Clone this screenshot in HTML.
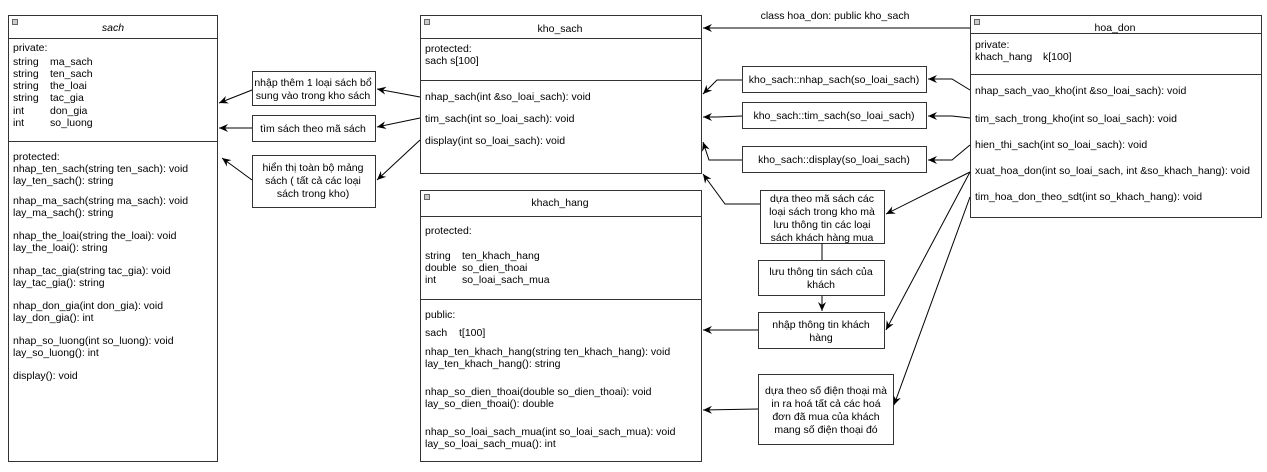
<!DOCTYPE html>
<html><head><meta charset="utf-8"><style>
html,body{margin:0;padding:0;background:#fff;width:1267px;height:472px;overflow:hidden}
svg text{font-family:"Liberation Sans",Arial,sans-serif;font-size:10.5px;fill:#000}
</style></head><body>
<svg width="1267" height="472" xmlns="http://www.w3.org/2000/svg">
<defs>
<marker id="a" markerWidth="10" markerHeight="8" refX="9" refY="4" orient="auto" markerUnits="userSpaceOnUse">
<path d="M0,0 L9,4 L0,8 L3,4 z" fill="#000"/></marker>
</defs>
<g fill="#fff" stroke="#333" stroke-width="1">
<rect x="8.5" y="15.5" width="209" height="446"/>
<line x1="8" y1="38.5" x2="217" y2="38.5"/><line x1="8" y1="141.5" x2="217" y2="141.5"/>
<rect x="420.5" y="15.5" width="281" height="158"/>
<line x1="420" y1="38.5" x2="701" y2="38.5"/><line x1="420" y1="80.5" x2="701" y2="80.5"/>
<rect x="420.5" y="190.5" width="281" height="271"/>
<line x1="420" y1="216.5" x2="701" y2="216.5"/><line x1="420" y1="299.5" x2="701" y2="299.5"/>
<rect x="970.5" y="15.5" width="291" height="202"/>
<line x1="970" y1="33.5" x2="1261" y2="33.5"/><line x1="970" y1="74.5" x2="1261" y2="74.5"/>
<rect x="252.5" y="71.5" width="123" height="34"/>
<rect x="252.5" y="115.5" width="123" height="26"/>
<rect x="252.5" y="155.5" width="123" height="52"/>
<rect x="742.5" y="66.5" width="184" height="26"/>
<rect x="742.5" y="102.5" width="184" height="26"/>
<rect x="742.5" y="146.5" width="184" height="26"/>
<rect x="760.5" y="190.5" width="124" height="53"/>
<rect x="758.5" y="260.5" width="126" height="35"/>
<rect x="758.5" y="312.5" width="126" height="36"/>
<rect x="758.5" y="374.5" width="135" height="70"/>
</g>
<g fill="#ccc" stroke="#666" stroke-width="1">
<rect x="12.5" y="19.5" width="5" height="5"/><rect x="424.5" y="19.5" width="5" height="5"/>
<rect x="424.5" y="194.5" width="5" height="5"/><rect x="974.5" y="19.5" width="5" height="5"/>
</g>
<g stroke="#000" stroke-width="1" fill="none" marker-end="url(#a)">
<line x1="252" y1="90" x2="219" y2="103"/>
<line x1="252" y1="128" x2="219" y2="128"/>
<line x1="252" y1="180" x2="222" y2="158"/>
<line x1="420" y1="97" x2="377" y2="89"/>
<line x1="420" y1="118" x2="377" y2="127"/>
<line x1="420" y1="140" x2="377" y2="180"/>
<polyline points="742,80 717,80 703,94"/>
<polyline points="742,116 717,117 703,117"/>
<polyline points="742,160 709,160 703,142"/>
<polyline points="760,204 725,204 703,174"/>
<line x1="970" y1="28" x2="703" y2="28"/>
<polyline points="970,90 952,79 928,79"/>
<polyline points="970,118 952,116 928,116"/>
<polyline points="970,145 952,160 928,160"/>
<line x1="970" y1="172" x2="886" y2="214"/>
<line x1="970" y1="172" x2="886" y2="330"/>
<line x1="970" y1="197" x2="894" y2="405"/>
<line x1="822" y1="296" x2="822" y2="311"/>
<line x1="758" y1="330" x2="703" y2="330"/>
<line x1="758" y1="409" x2="703" y2="410"/>
</g>
<line x1="822" y1="243" x2="822" y2="260" stroke="#000"/>
<text x="113" y="31" text-anchor="middle" font-style="italic">sach</text>
<text x="13" y="51">private:</text>
<text x="13" y="65">string</text><text x="50" y="65">ma_sach</text>
<text x="13" y="77">string</text><text x="50" y="77">ten_sach</text>
<text x="13" y="89">string</text><text x="50" y="89">the_loai</text>
<text x="13" y="101">string</text><text x="50" y="101">tac_gia</text>
<text x="13" y="114">int</text><text x="50" y="114">don_gia</text>
<text x="13" y="126">int</text><text x="50" y="126">so_luong</text>
<text x="13" y="160">protected:</text>
<text x="13" y="172">nhap_ten_sach(string ten_sach): void</text>
<text x="13" y="184">lay_ten_sach(): string</text>
<text x="13" y="204">nhap_ma_sach(string ma_sach): void</text>
<text x="13" y="216">lay_ma_sach(): string</text>
<text x="13" y="239">nhap_the_loai(string the_loai): void</text>
<text x="13" y="251">lay_the_loai(): string</text>
<text x="13" y="274">nhap_tac_gia(string tac_gia): void</text>
<text x="13" y="286">lay_tac_gia(): string</text>
<text x="13" y="309">nhap_don_gia(int don_gia): void</text>
<text x="13" y="321">lay_don_gia(): int</text>
<text x="13" y="344">nhap_so_luong(int so_luong): void</text>
<text x="13" y="356">lay_so_luong(): int</text>
<text x="13" y="379">display(): void</text>

<text x="313" y="86" text-anchor="middle">nhập thêm 1 loại sách bổ</text>
<text x="313" y="99" text-anchor="middle">sung vào trong kho sách</text>
<text x="313" y="132" text-anchor="middle">tìm sách theo mã sách</text>
<text x="313" y="171" text-anchor="middle">hiển thị toàn bộ mảng</text>
<text x="313" y="184" text-anchor="middle">sách ( tất cả các loại</text>
<text x="313" y="197" text-anchor="middle">sách trong kho)</text>

<text x="560" y="32" text-anchor="middle">kho_sach</text>
<text x="425" y="52">protected:</text>
<text x="425" y="64">sach s[100]</text>
<text x="425" y="100">nhap_sach(int &amp;so_loai_sach): void</text>
<text x="425" y="122">tim_sach(int so_loai_sach): void</text>
<text x="425" y="144">display(int so_loai_sach): void</text>

<text x="560" y="206" text-anchor="middle">khach_hang</text>
<text x="425" y="234">protected:</text>
<text x="425" y="259">string</text><text x="462" y="259">ten_khach_hang</text>
<text x="425" y="271">double</text><text x="462" y="271">so_dien_thoai</text>
<text x="425" y="283">int</text><text x="462" y="283">so_loai_sach_mua</text>
<text x="425" y="318">public:</text>
<text x="425" y="336">sach</text><text x="459" y="336">t[100]</text>
<text x="425" y="355">nhap_ten_khach_hang(string ten_khach_hang): void</text>
<text x="425" y="367">lay_ten_khach_hang(): string</text>
<text x="425" y="395">nhap_so_dien_thoai(double so_dien_thoai): void</text>
<text x="425" y="407">lay_so_dien_thoai(): double</text>
<text x="425" y="435">nhap_so_loai_sach_mua(int so_loai_sach_mua): void</text>
<text x="425" y="447">lay_so_loai_sach_mua(): int</text>

<text x="835" y="19" text-anchor="middle">class hoa_don: public kho_sach</text>
<text x="834" y="83" text-anchor="middle">kho_sach::nhap_sach(so_loai_sach)</text>
<text x="834" y="119" text-anchor="middle">kho_sach::tim_sach(so_loai_sach)</text>
<text x="834" y="163" text-anchor="middle">kho_sach::display(so_loai_sach)</text>

<text x="822" y="202" text-anchor="middle">dựa theo mã sách các</text>
<text x="822" y="215" text-anchor="middle">loại sách trong kho mà</text>
<text x="822" y="228" text-anchor="middle">lưu thông tin các loại</text>
<text x="822" y="241" text-anchor="middle">sách khách hàng mua</text>
<text x="821" y="275" text-anchor="middle">lưu thông tin sách của</text>
<text x="821" y="288" text-anchor="middle">khách</text>
<text x="821" y="328" text-anchor="middle">nhập thông tin khách</text>
<text x="821" y="341" text-anchor="middle">hàng</text>
<text x="826" y="394" text-anchor="middle">dựa theo số điện thoại mà</text>
<text x="826" y="407" text-anchor="middle">in ra hoá tất cả các hoá</text>
<text x="826" y="420" text-anchor="middle">đơn đã mua của khách</text>
<text x="826" y="433" text-anchor="middle">mang số điện thoại đó</text>

<text x="1115" y="31" text-anchor="middle">hoa_don</text>
<text x="975" y="48">private:</text>
<text x="975" y="60">khach_hang</text><text x="1043" y="60">k[100]</text>
<text x="975" y="94">nhap_sach_vao_kho(int &amp;so_loai_sach): void</text>
<text x="975" y="122">tim_sach_trong_kho(int so_loai_sach): void</text>
<text x="975" y="148">hien_thi_sach(int so_loai_sach): void</text>
<text x="975" y="174">xuat_hoa_don(int so_loai_sach, int &amp;so_khach_hang): void</text>
<text x="975" y="200">tim_hoa_don_theo_sdt(int so_khach_hang): void</text>
</svg>
</body></html>
